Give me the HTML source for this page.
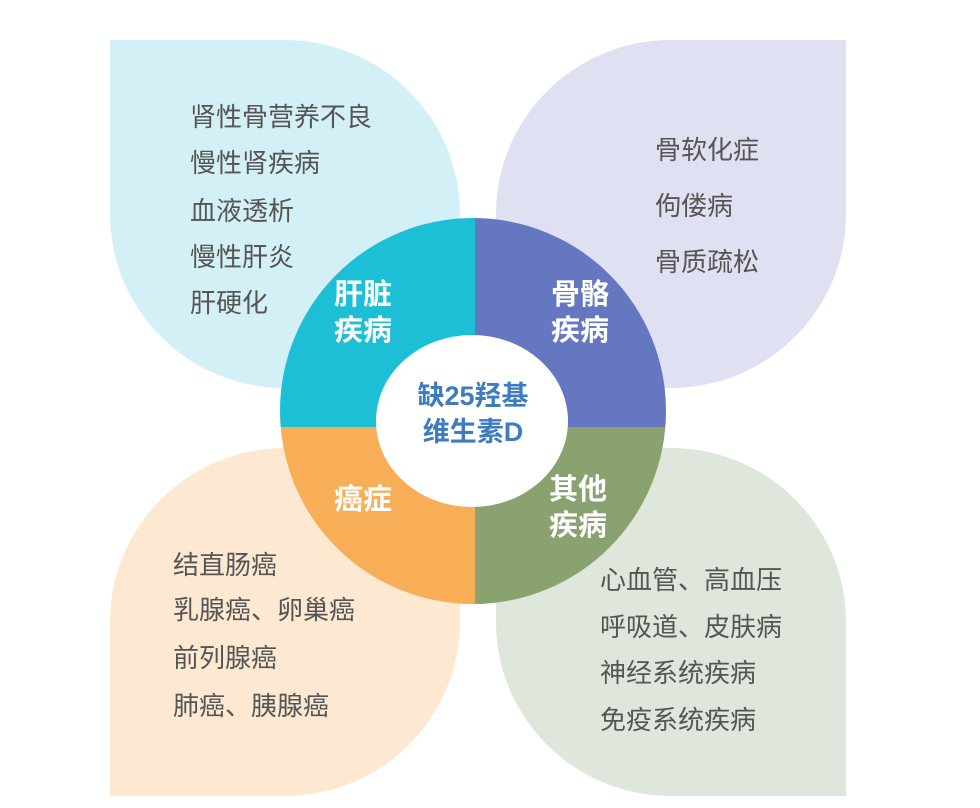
<!DOCTYPE html>
<html><head><meta charset="utf-8"><style>
body{margin:0;width:980px;height:808px;background:#fff;position:relative;overflow:hidden;font-family:"Liberation Sans","Noto Sans CJK SC",sans-serif}
.p{position:absolute;width:350px;height:348px}
.t{position:absolute;font-size:26px;color:#555;white-space:nowrap;line-height:1}
.w{position:absolute;font-size:29px;font-weight:bold;color:#fff;line-height:36px}
</style></head><body>
<div class="p" style="left:110px;top:40px;background:#d2f0f6;border-radius:0 50% 0 50%"></div>
<div class="p" style="left:496px;top:40px;background:#dfe1f3;border-radius:50% 0 50% 0"></div>
<div class="p" style="left:110px;top:448px;background:#fde9d2;border-radius:50% 0 50% 0"></div>
<div class="p" style="left:496px;top:448px;background:#dfe6db;border-radius:0 50% 0 50%"></div>
<svg style="position:absolute;left:0;top:0" width="980" height="808">
<defs><clipPath id="c"><ellipse cx="473" cy="411" rx="193" ry="193"/></clipPath></defs>
<g clip-path="url(#c)">
<rect x="270" y="210" width="205" height="217" fill="#1dbfd6"/>
<rect x="475" y="210" width="200" height="217" fill="#6577c1"/>
<rect x="270" y="427" width="205" height="190" fill="#f8ae56"/>
<rect x="475" y="427" width="200" height="190" fill="#8aa26f"/>
</g>
<ellipse cx="472" cy="421" rx="96" ry="86" fill="#fff"/>
</svg>
<div class="t" style="left:190px;top:104px">肾性骨营养不良</div>
<div class="t" style="left:190px;top:150px">慢性肾疾病</div>
<div class="t" style="left:190px;top:198px">血液透析</div>
<div class="t" style="left:190px;top:244px">慢性肝炎</div>
<div class="t" style="left:190px;top:290px">肝硬化</div>
<div class="t" style="left:655px;top:137px">骨软化症</div>
<div class="t" style="left:655px;top:193px">佝偻病</div>
<div class="t" style="left:655px;top:249px">骨质疏松</div>
<div class="t" style="left:173px;top:552px">结直肠癌</div>
<div class="t" style="left:173px;top:597px">乳腺癌、卵巢癌</div>
<div class="t" style="left:173px;top:645px">前列腺癌</div>
<div class="t" style="left:173px;top:693px">肺癌、胰腺癌</div>
<div class="t" style="left:600px;top:567px">心血管、高血压</div>
<div class="t" style="left:600px;top:614px">呼吸道、皮肤病</div>
<div class="t" style="left:600px;top:660px">神经系统疾病</div>
<div class="t" style="left:600px;top:707px">免疫系统疾病</div>
<div class="w" style="left:334px;top:277px">肝脏<br>疾病</div>
<div class="w" style="left:551px;top:277px">骨骼<br>疾病</div>
<div class="w" style="left:334px;top:482px">癌症</div>
<div class="w" style="left:549px;top:472px">其他<br>疾病</div>
<div style="position:absolute;left:373px;top:378px;width:200px;text-align:center;font-size:27px;font-weight:bold;color:#3e7cbf;line-height:36px">缺25羟基<br>维生素D</div>
</body></html>
